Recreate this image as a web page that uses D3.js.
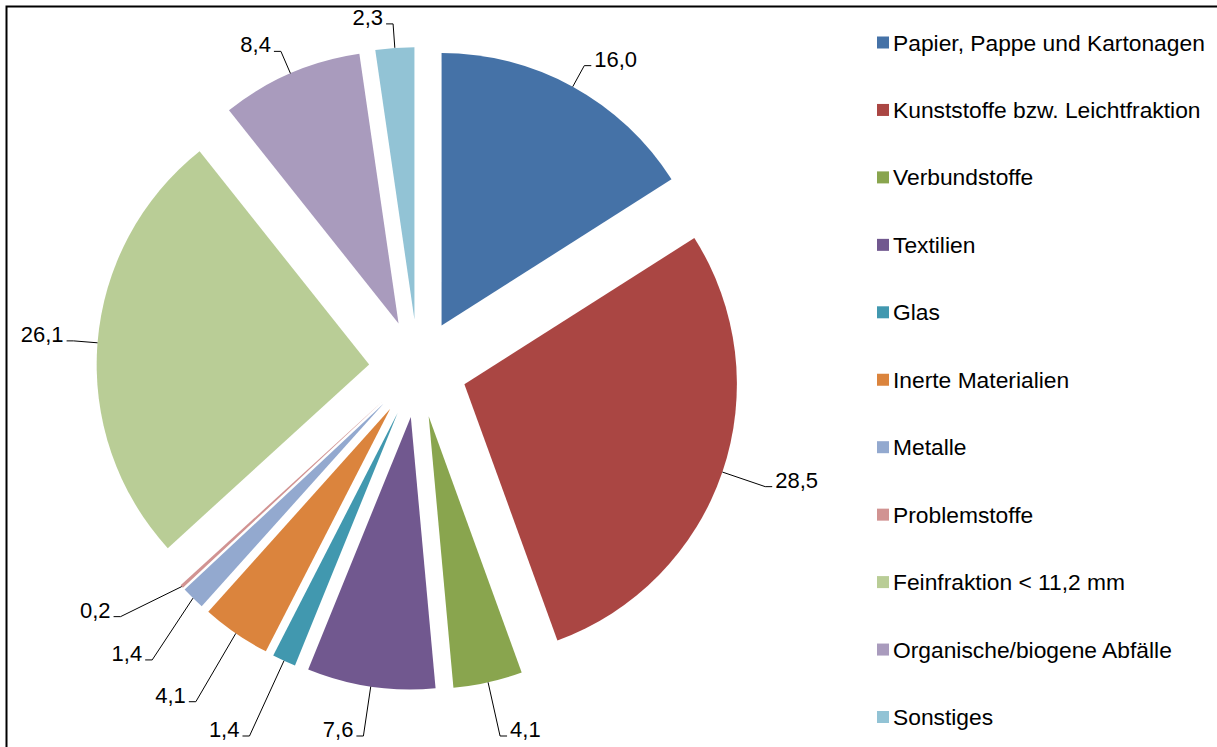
<!DOCTYPE html>
<html>
<head>
<meta charset="utf-8">
<script src="https://cdn.jsdelivr.net/npm/d3@7"></script>
<style>
  html, body { margin: 0; padding: 0; background: #fff; }
  svg { display: block; font-family: "Liberation Sans", Arial, sans-serif; }
</style>
</head>
<body>
<svg id="chart" width="1217" height="747"></svg>
<script>
// Waste composition (mass share in %)
const categories = [
  "Papier, Pappe und Kartonagen",
  "Kunststoffe bzw. Leichtfraktion",
  "Verbundstoffe",
  "Textilien",
  "Glas",
  "Inerte Materialien",
  "Metalle",
  "Problemstoffe",
  "Feinfraktion < 11,2 mm",
  "Organische/biogene Abfälle",
  "Sonstiges"
];
const values = [16.0, 28.5, 4.1, 7.6, 1.4, 4.1, 1.4, 0.2, 26.1, 8.4, 2.3];
const colors = [
  "#4572A7", "#AA4643", "#89A54E", "#71588F", "#4198AF", "#DB843D",
  "#93A9CF", "#D19392", "#B9CD96", "#A99BBD", "#92C3D5"
];

const svg = d3.select("#chart");
const W = 1217, H = 747;

// outer frame
svg.append("rect")
  .attr("x", 6.5).attr("y", 6.5)
  .attr("width", W + 50).attr("height", H + 50)
  .attr("fill", "none").attr("stroke", "#000").attr("stroke-width", 2);

// pie geometry: every slice pushed out along its bisector
const cx = 418, cy = 368.5, radius = 272.5, explode = 49;
const fmt = v => d3.format(".1f")(v).replace(".", ",");

const pie = d3.pie().sort(null).value(d => d.value);
const arcs = pie(categories.map((c, i) => ({ name: c, value: values[i], color: colors[i] })));
const arc = d3.arc().innerRadius(0).outerRadius(radius);

const dirOf = a => [Math.sin(a), -Math.cos(a)];

arcs.forEach(a => {
  a.mid = (a.startAngle + a.endAngle) / 2;
  const [dx, dy] = dirOf(a.mid);
  a.apex = [cx + explode * dx, cy + explode * dy];
});

const g = svg.append("g");
g.selectAll("path.slice")
  .data(arcs)
  .join("path")
  .attr("class", "slice")
  .attr("transform", d => `translate(${d.apex[0]},${d.apex[1]})`)
  .attr("d", arc)
  .attr("fill", d => d.data.color);

// label angles: start at slice bisector, then spread crowded neighbours apart
const minSep = 8.5 * Math.PI / 180;
arcs.forEach(a => { a.labelAngle = a.mid; });
const order = arcs.slice().sort((p, q) => p.mid - q.mid);
for (let it = 0; it < 60; it++) {
  for (let k = 0; k < order.length - 1; k++) {
    const p = order[k], q = order[k + 1];
    const gap = q.labelAngle - p.labelAngle;
    if (gap < minSep) {
      const push = (minSep - gap) / 2;
      p.labelAngle -= push;
      q.labelAngle += push;
    }
  }
}

// value labels with leader lines (arc midpoint -> bend -> short horizontal tick)
const yMax = 736;
const labels = svg.append("g");
arcs.forEach(a => {
  const [mx, my] = dirOf(a.mid);
  const start = [a.apex[0] + radius * mx, a.apex[1] + radius * my];
  const [lx, ly] = dirOf(a.labelAngle);
  const ext = 24 + 66 * Math.max(0, ly);
  let t = radius + ext;
  if (a.apex[1] + t * ly > yMax) t = (yMax - a.apex[1]) / ly;
  const bend = [a.apex[0] + t * lx, a.apex[1] + t * ly];
  const right = lx >= 0;
  const s = right ? 1 : -1;
  const tickEnd = [bend[0] + s * 7, bend[1]];

  labels.append("path")
    .attr("d", d3.line()([start, bend, tickEnd]))
    .attr("fill", "none")
    .attr("stroke", "#000")
    .attr("stroke-width", 1);

  labels.append("text")
    .attr("x", bend[0] + s * 10)
    .attr("y", bend[1] + 1)
    .attr("text-anchor", right ? "start" : "end")
    .attr("font-size", 22)
    .attr("fill", "#000")
    .text(fmt(a.data.value));
});

// legend
const legendY = d3.scalePoint().domain(categories).range([42.5, 717]);
const legend = svg.append("g");
const rows = legend.selectAll("g.row")
  .data(categories)
  .join("g")
  .attr("class", "row")
  .attr("transform", d => `translate(877,${legendY(d)})`);
rows.append("rect")
  .attr("x", 0).attr("y", -6)
  .attr("width", 12).attr("height", 12)
  .attr("fill", (d, i) => colors[i]);
rows.append("text")
  .attr("x", 16).attr("y", 8)
  .attr("font-size", 22.8)
  .attr("fill", "#000")
  .text(d => d);
</script>
</body>
</html>
